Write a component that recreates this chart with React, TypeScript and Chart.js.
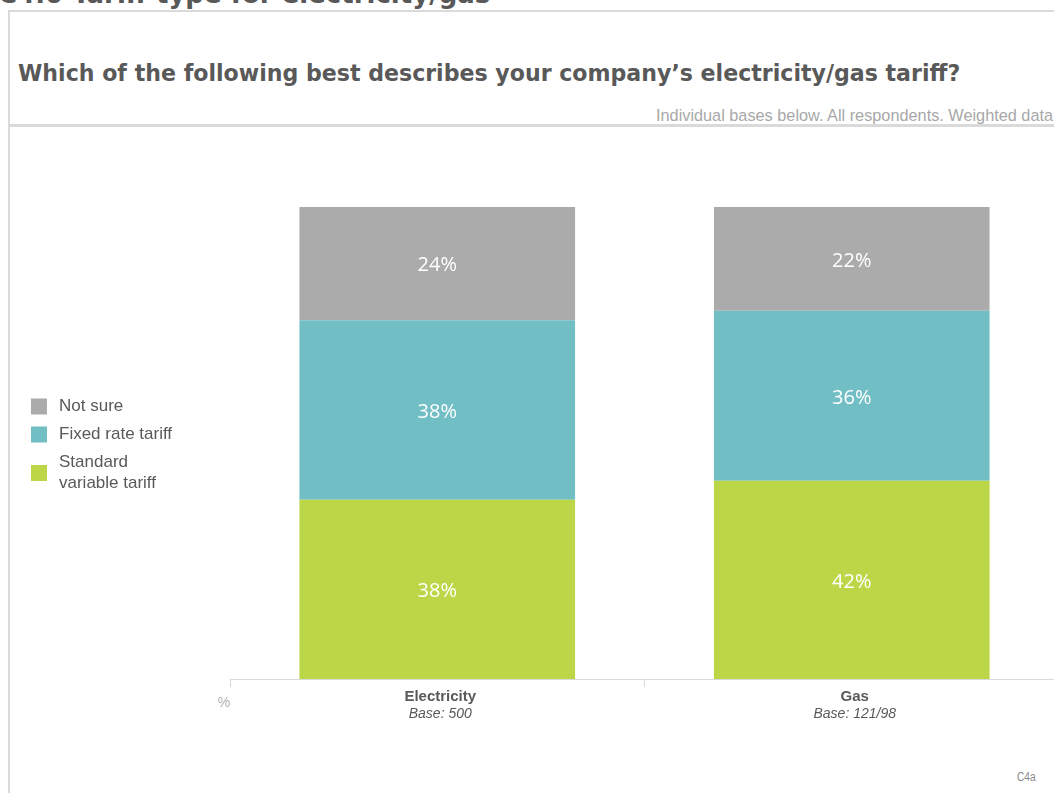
import React, { useEffect, useRef } from "react";
import { Chart, registerables } from "chart.js";

Chart.register(...registerables);

const categories = ["Electricity", "Gas"];
const bases = ["Base: 500", "Base: 121/98"];
const seriesNames = ["Standard variable tariff", "Fixed rate tariff", "Not sure"];
const legendLines = [["Standard", "variable tariff"], ["Fixed rate tariff"], ["Not sure"]];
const standardVariable = [38, 42];
const fixedRate = [38, 36];
const notSure = [24, 22];
const seriesColors = ["#bbd748", "#72bec5", "#ababab"];

const TEXT = "#595959";

const valueLabelPlugin = {
  id: "valueLabels",
  afterDatasetsDraw(chart: any) {
    const ctx = chart.ctx;
    ctx.save();
    ctx.fillStyle = "#ffffff";
    ctx.font = "20px 'Open Sans'";
    ctx.textAlign = "center";
    ctx.textBaseline = "middle";
    chart.data.datasets.forEach((ds: any, i: number) => {
      const meta = chart.getDatasetMeta(i);
      meta.data.forEach((bar: any, j: number) => {
        const p = bar.getProps(["x", "y", "base"], true);
        ctx.fillText(ds.data[j] + "%", p.x, (p.y + p.base) / 2 + 2);
      });
    });
    ctx.restore();
  },
};

const axisLabelPlugin = {
  id: "axisLabels",
  afterDraw(chart: any) {
    const ctx = chart.ctx;
    const xs = chart.scales.x;
    const bottom = chart.chartArea.bottom;
    ctx.save();
    ctx.textAlign = "center";
    ctx.textBaseline = "middle";
    categories.forEach((c, i) => {
      const x = xs.getPixelForValue(i) + 3;
      ctx.fillStyle = TEXT;
      ctx.font = "bold 15px 'Liberation Sans'";
      ctx.fillText(c, x, bottom + 18);
      ctx.font = "italic 14px 'Liberation Sans'";
      ctx.fillText(bases[i], x, bottom + 35);
    });
    ctx.fillStyle = "#b0b0b0";
    ctx.font = "14px 'Liberation Sans'";
    ctx.fillText("%", chart.chartArea.left - 6, bottom + 24);
    ctx.restore();
  },
};

const legendPlugin = {
  id: "sideLegend",
  afterDraw(chart: any) {
    const ctx = chart.ctx;
    ctx.save();
    ctx.font = "17px 'Liberation Sans'";
    ctx.textBaseline = "middle";
    ctx.textAlign = "left";
    const x0 = 31;
    let y = 266;
    const order = [2, 1, 0];
    order.forEach((idx) => {
      const lines = legendLines[idx];
      const h = lines.length === 1 ? 21 : 42;
      const cy = y + h / 2;
      ctx.fillStyle = chart.data.datasets[idx].backgroundColor;
      ctx.fillRect(x0, cy - 8, 16, 16);
      ctx.fillStyle = TEXT;
      lines.forEach((l, k) => {
        ctx.fillText(l, x0 + 28, y + 10.5 + k * 21);
      });
      y += h + 7;
    });
    ctx.restore();
  },
};

function ChartView() {
  const ref = useRef<HTMLCanvasElement | null>(null);
  useEffect(() => {
    if (!ref.current) return;
    const chart = new Chart(ref.current, {
      type: "bar",
      data: {
        labels: categories,
        datasets: [
          { label: seriesNames[0], data: standardVariable, backgroundColor: seriesColors[0] },
          { label: seriesNames[1], data: fixedRate, backgroundColor: seriesColors[1] },
          { label: seriesNames[2], data: notSure, backgroundColor: seriesColors[2] },
        ].map((d) => ({ ...d, barPercentage: 0.665, categoryPercentage: 1, borderWidth: 0 })),
      },
      options: {
        animation: false,
        responsive: false,
        maintainAspectRatio: false,
        layout: { padding: { left: 230, right: 21, top: 77, bottom: 83 } },
        plugins: { legend: { display: false }, tooltip: { enabled: false } },
        scales: {
          x: {
            stacked: true,
            grid: { offset: true, drawOnChartArea: false, drawTicks: true, tickLength: 8, color: "#d9d9d9" },
            border: { color: "#d9d9d9", width: 1 },
            ticks: { display: false },
          },
          y: {
            stacked: true,
            display: false,
            min: 0,
            max: 100,
          },
        },
      },
      plugins: [valueLabelPlugin, axisLabelPlugin, legendPlugin],
    });
    return () => chart.destroy();
  }, []);
  return (
    <canvas
      ref={ref}
      width={1080}
      height={640}
      style={{ position: "absolute", left: 0, top: 130, width: 1080, height: 640 }}
    />
  );
}

export default function App() {
  return (
    <div
      style={{
        position: "fixed",
        left: 0,
        top: 0,
        width: 1054,
        height: 793,
        overflow: "hidden",
        background: "#ffffff",
      }}
    >
      <div
        style={{
          position: "absolute",
          left: -2,
          top: -20,
          font: "bold 26px 'DejaVu Sans'",
          lineHeight: "28px",
          color: TEXT,
          whiteSpace: "nowrap",
        }}
      >
        C4.0 Tariff type for electricity/gas
      </div>
      <div
        style={{
          position: "absolute",
          left: 8,
          top: 10,
          width: 1100,
          height: 900,
          borderLeft: "2px solid #dadada",
          borderTop: "2px solid #dadada",
          background: "transparent",
        }}
      />
      <div
        style={{
          position: "absolute",
          left: 18,
          top: 58,
          font: "bold 22.1px 'DejaVu Sans'",
          lineHeight: "30px",
          color: TEXT,
          whiteSpace: "nowrap",
        }}
      >
        Which of the following best describes your company’s electricity/gas tariff?
      </div>
      <div
        style={{
          position: "absolute",
          left: 656,
          top: 105,
          font: "16.3px 'Liberation Sans'",
          lineHeight: "20px",
          color: "#a8a8a8",
          whiteSpace: "nowrap",
        }}
      >
        Individual bases below. All respondents. Weighted data
      </div>
      <div
        style={{ position: "absolute", left: 10, top: 124, width: 1100, height: 3, background: "#dadada" }}
      />
      <ChartView />
      <div
        style={{
          position: "absolute",
          left: 1017,
          top: 770,
          font: "12px 'Liberation Sans'",
          color: "#8a8a8a",
          transform: "scaleX(0.85)",
          transformOrigin: "left",
        }}
      >
        C4a
      </div>
    </div>
  );
}
